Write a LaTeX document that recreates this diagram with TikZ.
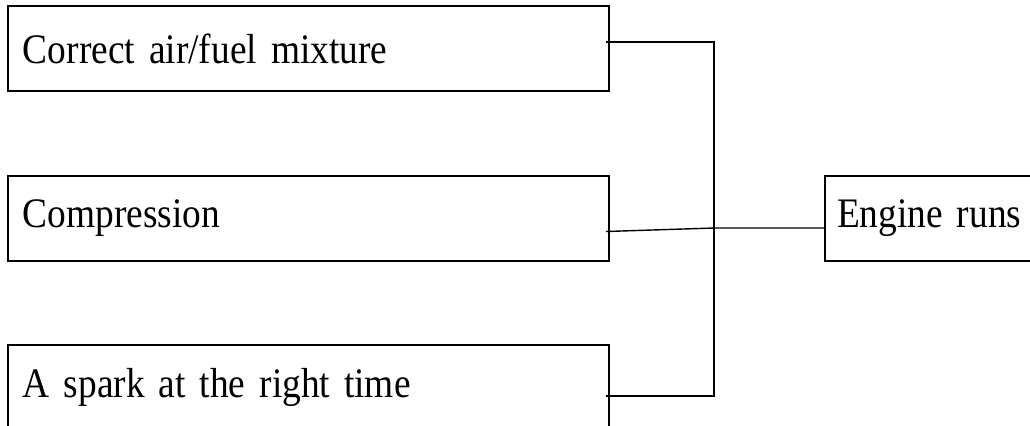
\documentclass[tikz,border=0pt]{standalone}
\usepackage{fontspec}
\setmainfont[FakeStretch=0.89, WordSpace=0.8]{Liberation Serif}
\usetikzlibrary{positioning,calc}

\begin{document}
\begin{tikzpicture}[x=0.5pt, y=-0.5pt,
  cond/.style={draw, rectangle, line width=1pt, anchor=north west, inner xsep=7.5pt, inner ysep=0pt,
    text width=285.5pt, minimum height=42.5pt, align=left, font=\fontsize{21}{25}\selectfont},
  wire/.style={line width=0.7pt}]
\clip (0,0) rectangle (1030,425);
\node[cond] (air) at (7,5) {Correct air/fuel mixture};
\node[cond] (comp) at (7,175) {Compression};
\node[cond] (spark) at (7,344) {A spark at the right time};
\node[cond, text width=150pt, inner xsep=6pt] (engine) at (824,175) {Engine runs};

\coordinate (j1) at (714,42);
\coordinate (j3) at (714,396);
\coordinate (join) at (714,228);

\draw[wire] ([xshift=-2pt]air.east |- j1) -- (j1) -- (j3) -- ([xshift=-2pt]spark.east |- j3);
\draw[wire] ([xshift=-2pt, yshift=-6.5pt]comp.east) -- (join) -- (join -| engine.west);
\end{tikzpicture}
\end{document}
